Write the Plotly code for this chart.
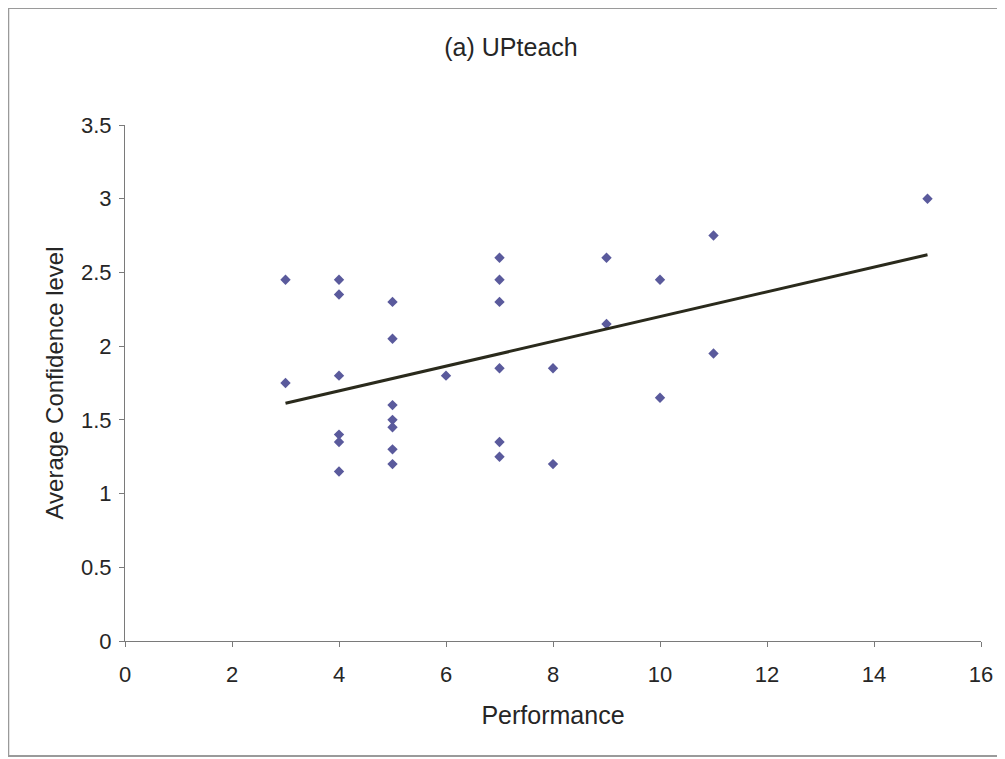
import numpy as np
import plotly.graph_objects as go

# Data
performance = [3, 3,
               4, 4, 4, 4, 4, 4,
               5, 5, 5, 5, 5, 5, 5,
               6,
               7, 7, 7, 7, 7, 7,
               8, 8,
               9, 9,
               10, 10,
               11, 11,
               15]
confidence = [2.45, 1.75,
              2.45, 2.35, 1.80, 1.40, 1.35, 1.15,
              2.30, 2.05, 1.60, 1.50, 1.45, 1.30, 1.20,
              1.80,
              2.60, 2.45, 2.30, 1.85, 1.35, 1.25,
              1.85, 1.20,
              2.60, 2.15,
              2.45, 1.65,
              2.75, 1.95,
              3.00]
x_ticks = [0, 2, 4, 6, 8, 10, 12, 14, 16]
y_ticks = [0, 0.5, 1, 1.5, 2, 2.5, 3, 3.5]

# Linear trendline (least squares), spanning the data range
slope, intercept = np.polyfit(performance, confidence, 1)
trend_x = [min(performance), max(performance)]
trend_y = [slope * v + intercept for v in trend_x]

fig = go.Figure()
fig.add_trace(go.Scatter(
    x=performance, y=confidence, mode="markers",
    marker=dict(symbol="diamond", size=8, color="#5a5a9c"),
    showlegend=False, hoverinfo="x+y"))
fig.add_trace(go.Scatter(
    x=trend_x, y=trend_y, mode="lines",
    line=dict(color="#2a2a1c", width=3),
    showlegend=False, hoverinfo="skip"))

# The page body has an 8px default margin, so the figure is sized to fit
OFF = 8
W, H = 1005 - OFF, 759 - OFF
ml, mr, mt, mb = 125 - OFF, 22, 125 - OFF, 118
pw, ph = W - ml - mr, H - mt - mb

def px2paper_x(px):
    return (px - ml) / pw

def px2paper_y(py):
    return (H - mb - py) / ph

fig.add_shape(type="rect", xref="paper", yref="paper",
              x0=px2paper_x(0), x1=px2paper_x(995),
              y0=px2paper_y(748), y1=px2paper_y(0),
              line=dict(color="#9a9a9a", width=2), layer="below")

font_family = "Liberation Sans, Arial, sans-serif"
txt = "#262626"
fig.update_layout(
    width=W, height=H,
    margin=dict(l=ml, r=mr, t=mt, b=mb),
    paper_bgcolor="white", plot_bgcolor="white",
    font=dict(family=font_family, color=txt),
    title=dict(text="(a) UPteach", x=(511 - OFF) / W, xanchor="center",
               y=1 - (47 - OFF) / H, yanchor="middle",
               font=dict(size=25, family=font_family, color=txt)),
    xaxis=dict(range=[0, 16], tickvals=x_ticks, ticktext=[str(v) for v in x_ticks],
               showgrid=False, zeroline=False, showline=True,
               linecolor="#7a7a7a", linewidth=1,
               ticks="outside", ticklen=5, tickcolor="#7a7a7a",
               ticklabelstandoff=9,
               tickfont=dict(size=22, family=font_family, color=txt),
               title=dict(text="Performance", standoff=20,
                          font=dict(size=25, family=font_family, color=txt)),
               fixedrange=True),
    yaxis=dict(range=[0, 3.5], tickvals=y_ticks, ticktext=[("%g" % v) for v in y_ticks],
               showgrid=False, zeroline=False, showline=True,
               linecolor="#7a7a7a", linewidth=1,
               ticks="outside", ticklen=5, tickcolor="#7a7a7a",
               ticklabelstandoff=3,
               tickfont=dict(size=22, family=font_family, color=txt),
               title=dict(text="Average Confidence level", standoff=10,
                          font=dict(size=24, family=font_family, color=txt)),
               fixedrange=True),
)

fig.write_html("out.html")
